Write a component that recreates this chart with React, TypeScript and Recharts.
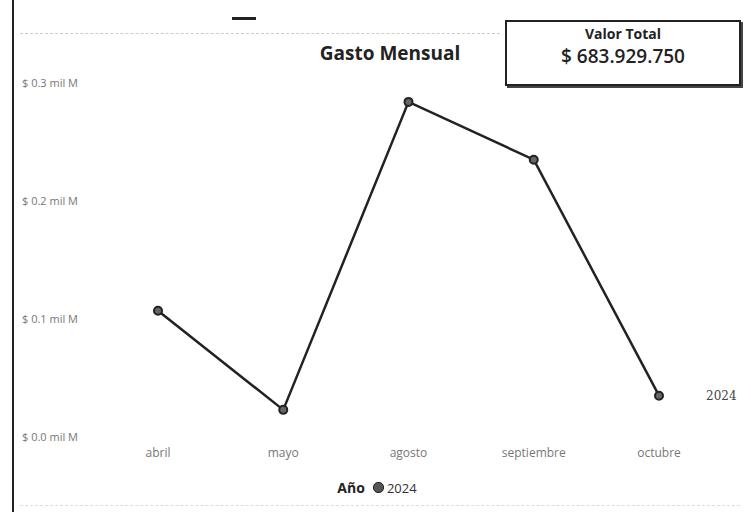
import { LineChart, Line, XAxis, YAxis, Legend, LabelList } from 'recharts';

const months = ['abril', 'mayo', 'agosto', 'septiembre', 'octubre'];
const gasto = [0.107, 0.023, 0.284, 0.235, 0.035]; // mil M
const yTicks = [0, 0.1, 0.2, 0.3];
const yTickLabels = ['$ 0.0 mil M', '$ 0.1 mil M', '$ 0.2 mil M', '$ 0.3 mil M'];
const seriesName = '2024';
const totalLabel = '$ 683.929.750';

const data = months.map((m, i) => ({ mes: m, gasto: gasto[i] }));

const FONT = '"Open Sans", "DejaVu Sans", sans-serif';

const YTick = ({ y, payload }: any) => {
  const idx = yTicks.indexOf(payload.value);
  return (
    <text x={22} y={y} dy={4} fill="#777" fontSize={11} fontFamily={FONT} textAnchor="start">
      {yTickLabels[idx]}
    </text>
  );
};

const EndLabel = ({ x, y, index }: any) => {
  if (index !== months.length - 1) return null;
  return (
    <text x={x + 47} y={y} dy={4} fill="#444" fontSize={12} fontFamily="DejaVu Serif, serif">
      {seriesName}
    </text>
  );
};

const LegendContent = () => (
  <div style={{ display: 'flex', justifyContent: 'center', alignItems: 'center', fontFamily: FONT, gap: 8, marginLeft: 20 }}>
    <span style={{ fontWeight: 700, fontSize: 14, color: '#222' }}>Año</span>
    <span style={{ display: 'inline-flex', alignItems: 'center', gap: 3, fontSize: 13, color: '#333' }}>
      <span style={{ width: 9, height: 9, borderRadius: 5, background: '#555', border: '1px solid #222', display: 'inline-block' }} />
      {seriesName}
    </span>
  </div>
);

export default function App() {
  return (
    <div style={{ position: 'absolute', left: 0, top: 0, width: 751, height: 512, background: '#fff', fontFamily: FONT }}>
      {/* left border */}
      <div style={{ position: 'absolute', left: 12, top: 0, width: 2, height: 512, background: '#222' }} />
      {/* top faint rule */}
      <div style={{ position: 'absolute', left: 20, top: 33, width: 480, height: 1, borderTop: '1px dashed #ccc' }} />
      <div style={{ position: 'absolute', left: 232, top: 17, width: 24, height: 3, background: '#222' }} />
      {/* bottom faint rule */}
      <div style={{ position: 'absolute', left: 20, top: 505, width: 720, height: 1, borderTop: '1px dashed #ddd' }} />
      <div style={{ position: 'absolute', left: 290, top: 40, width: 200, textAlign: 'center', fontWeight: 700, fontSize: 19, color: '#222' }}>
        Gasto Mensual
      </div>
      <div style={{
        position: 'absolute', left: 505, top: 20, width: 236, height: 66,
        border: '2px solid #222', boxShadow: '2px 2px 0 #444', textAlign: 'center', boxSizing: 'border-box',
      }}>
        <div style={{ fontWeight: 700, fontSize: 14, color: '#222', marginTop: 2 }}>Valor Total</div>
        <div style={{ fontWeight: 600, fontSize: 19, color: '#222', marginTop: 0 }}>{totalLabel}</div>
      </div>
      <div style={{ position: 'absolute', left: 0, top: 0 }}>
        <LineChart width={751} height={512} data={data} margin={{ top: 83, right: 30, bottom: 15, left: 13 }}>
          <XAxis
            dataKey="mes"
            axisLine={false}
            tickLine={false}
            height={30}
            padding={{ left: 62, right: 62 }}
            tick={{ fill: '#777', fontSize: 12, fontFamily: FONT, dy: 3 }}
          />
          <YAxis
            domain={[0, 0.3]}
            ticks={yTicks}
            axisLine={false}
            tickLine={false}
            width={83}
            tick={<YTick />}
          />
          <Legend verticalAlign="bottom" height={30} content={<LegendContent />} wrapperStyle={{ bottom: 4 }} />
          <Line
            type="linear"
            dataKey="gasto"
            name={seriesName}
            stroke="#222"
            strokeWidth={2.5}
            dot={{ r: 4, fill: '#666', stroke: '#222', strokeWidth: 2 }}
            isAnimationActive={false}
          >
            <LabelList dataKey="gasto" content={<EndLabel />} />
          </Line>
        </LineChart>
      </div>
    </div>
  );
}
